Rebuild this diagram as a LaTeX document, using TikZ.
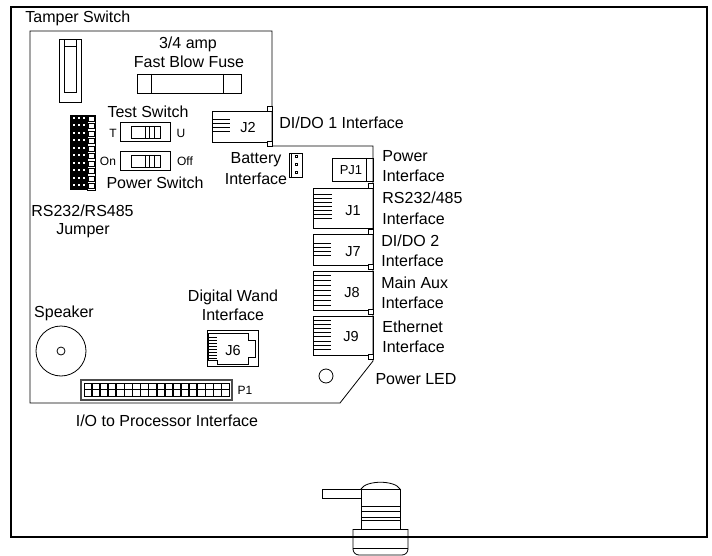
\documentclass[tikz,border=0pt]{standalone}
\usepackage{fontspec}
\setmainfont{Liberation Sans}
\usepackage{tikz}
\usetikzlibrary{positioning}
\tikzstyle{lbl} = [inner sep = 0, font = \fontsize{16}{18}\selectfont]
\tikzstyle{jack} = [inner sep = 0, font = \fontsize{14.5}{16}\selectfont]
\tikzstyle{tiny} = [inner sep = 0, font = \fontsize{12}{14}\selectfont]
\tikzstyle{part} = [rectangle, draw = black, line width = 0.9pt, inner sep = 0]
\tikzstyle{pad} = [rectangle, draw = black, fill = white, line width = 0.7pt, inner sep = 0, minimum width = 4.5, minimum height = 5]

\begin{document}
\begin{tikzpicture}[x = 1pt, y = -1pt, line width = 0.8pt]
    \useasboundingbox (0, 0) rectangle (712, 556);
    \draw [line width = 2.4pt] (11, 7) rectangle (707, 537);
    % board outline
    \draw (30, 31) -- (272, 31) -- (272, 146) -- (373, 146) -- (373, 361) -- (340, 403) -- (30, 403) -- cycle;
    % tamper switch
    \draw (59, 39) rectangle (81, 102);
    \draw (64, 39) rectangle (76, 92);
    \draw (64, 46) -- (76, 46);
    \node [lbl, anchor = west] (tamper) at (25, 18) {Tamper Switch};
    % fuse
    \draw (137, 74) rectangle (241, 93);
    \draw (151, 74) -- (151, 93);
    \draw (223, 74) -- (223, 93);
    \node [lbl] (amp) at (188, 44) {3/4 amp};
    \node [lbl] (fuse) at (189, 62) {Fast Blow Fuse};
    % switches
    \node [lbl] (test) at (148, 112) {Test Switch};
    \node [tiny] (t) at (113, 133) {T};
    \node [tiny] (u) at (181, 133) {U};
    \node [tiny] (on) at (108, 161) {On};
    \node [tiny] (off) at (185, 161) {Off};
    \node [lbl] (power) at (155, 183) {Power Switch};
    \foreach \y in {122, 151} {
      \draw (120, \y) rectangle (170, \y + 19);
      \draw (131, \y + 4) rectangle (160, \y + 16);
      \foreach \x in {145, 149.5, 154}
        \draw (\x, \y + 4) -- (\x, \y + 16);
    }
    % jumper
    \fill (70, 115) rectangle (87, 190);
    \foreach \y in {117, 124.5, ..., 185} {
      \fill [white] (73, \y) rectangle (75, \y + 2);
      \fill [white] (78, \y) rectangle (80, \y + 2);
      \fill [white] (83, \y) rectangle (85, \y + 2);
      \draw [line width = 0.6pt] (88.5, \y - 1) rectangle (94, \y + 4);
    }
    \draw (87, 115) rectangle (95, 190);
    \node [lbl] (jumpa) at (82.5, 211) {RS232/RS485};
    \node [lbl] (jumpb) at (83, 231) {Jumper};
    % right hand connectors
    \node [part, minimum width = 60, minimum height = 31, anchor = north west] (j2) at (212, 111) {};
    \node [jack] at (248, 128) {J2};
    \node [pad] (p2a) at (270, 109) {};
    \node [pad] (p2b) at (270, 143.5) {};
    \foreach \y in {119, 123, 127, 131}
      \draw (212, \y) -- (230, \y);
    \node [lbl, anchor = west] (dido1) at (279, 123) {DI/DO 1 Interface};
    % battery
    \node [lbl] (bata) at (256, 160) {Battery};
    \node [lbl] (batb) at (256, 179) {Interface};
    \draw (289, 153) rectangle (302, 177);
    \draw (291, 153) -- (291, 177);
    \foreach \y in {156, 164, 172}
      \draw (295, \y - 1) rectangle (297, \y + 1);
    % power jack
    \node [part, minimum width = 41, minimum height = 23, anchor = north west] (pj1) at (332, 158) {};
    \draw (366, 158) -- (366, 181);
    \node [tiny, font = \fontsize{13}{15}\selectfont] at (351, 170) {PJ1};
    \node [lbl, anchor = west] (powa) at (382, 156) {Power};
    \node [lbl, anchor = west] (powb) at (382, 176) {Interface};
    % J1
    \node [part, minimum width = 60, minimum height = 40, anchor = north west] (j1) at (313, 188) {};
    \node [jack] at (353, 211) {J1};
    \node [pad] (p1a) at (371, 186) {};
    \node [pad] (p1b) at (371, 231.5) {};
    \foreach \y in {194.7, 198.7, ..., 219}
      \draw (313, \y) -- (332, \y);
    \node [lbl, anchor = west] (rsa) at (382, 198) {RS232/485};
    \node [lbl, anchor = west] (rsb) at (382, 219) {Interface};
    % J7
    \node [part, minimum width = 60, minimum height = 31, anchor = north west] (j7) at (313, 234) {};
    \node [jack] at (353, 252) {J7};
    \node [pad] (p7) at (371, 266.5) {};
    \foreach \y in {243, 247, 251, 255}
      \draw (313, \y) -- (331, \y);
    \node [lbl, anchor = west] (didoa) at (381, 241) {DI/DO 2};
    \node [lbl, anchor = west] (didob) at (381, 261) {Interface};
    % J8
    \node [part, minimum width = 60, minimum height = 39, anchor = north west] (j8) at (313, 271) {};
    \node [jack] at (352, 293) {J8};
    \node [pad] (p8) at (371, 312) {};
    \foreach \y in {275, 280, ..., 305}
      \draw (313, \y) -- (331, \y);
    \node [lbl, anchor = west] (auxa) at (381, 283) {Main Aux};
    \node [lbl, anchor = west] (auxb) at (381, 303) {Interface};
    % J9
    \node [part, minimum width = 60, minimum height = 39, anchor = north west] (j9) at (313, 316) {};
    \node [jack] at (351, 337) {J9};
    \node [pad] (p9) at (371, 356.5) {};
    \foreach \y in {320, 324.2, ..., 350}
      \draw (313, \y) -- (331, \y);
    \node [lbl, anchor = west] (etha) at (382, 327) {Ethernet};
    \node [lbl, anchor = west] (ethb) at (382, 347) {Interface};
    % led
    \draw (326, 376) circle [radius = 7];
    \node [lbl] (led) at (416, 379) {Power LED};
    % speaker
    \draw (61, 351) circle [radius = 25];
    \draw (61, 351) circle [radius = 4];
    \node [lbl] (speaker) at (64, 313) {Speaker};
    % wand
    \node [lbl] (wanda) at (233, 297) {Digital Wand};
    \node [lbl] (wandb) at (233, 315) {Interface};
    \draw (207, 330) rectangle (258, 366);
    \draw (208, 333) -- (248, 333) -- (248, 340) -- (255, 340) -- (255, 357) -- (248, 357) -- (248, 364) -- (217, 364) -- (217, 360) -- (208, 360) -- cycle;
    \foreach \y in {337, 340, ..., 358}
      \draw (208, \y) -- (217, \y);
    \node [jack] at (233, 351) {J6};
    % p1
    \draw [line width = 1.1pt, black!70] (81, 380) rectangle (232, 400);
    \foreach \x in {84, 92.1, ..., 222} {
      \draw [line width = 0.7pt] (\x, 383) rectangle (\x + 7.5, 389.7);
      \draw [line width = 0.7pt] (\x, 389.7) rectangle (\x + 7.5, 396.7);
    }
    \node [tiny] (p1) at (245, 390) {P1};
    \node [lbl] (io) at (167, 421) {I/O to Processor Interface};
    % standoff
    \draw (322, 489) rectangle (361, 498);
    \draw (361, 489) rectangle (400, 529);
    \draw (361, 489) .. controls (366, 480) and (395, 480) .. (400, 489);
    \draw (361, 506) -- (400, 506);
    \draw (361, 511) -- (400, 511);
    \draw (361, 517) -- (400, 517);
    \draw (361, 520) -- (400, 520);
    \draw (353, 529) -- (408, 529);
    \draw [rounded corners = 6] (353, 529) -- (353, 555) -- (408, 555) -- (408, 529);
    \draw (353, 548) -- (408, 548);
\end{tikzpicture}
\end{document}
